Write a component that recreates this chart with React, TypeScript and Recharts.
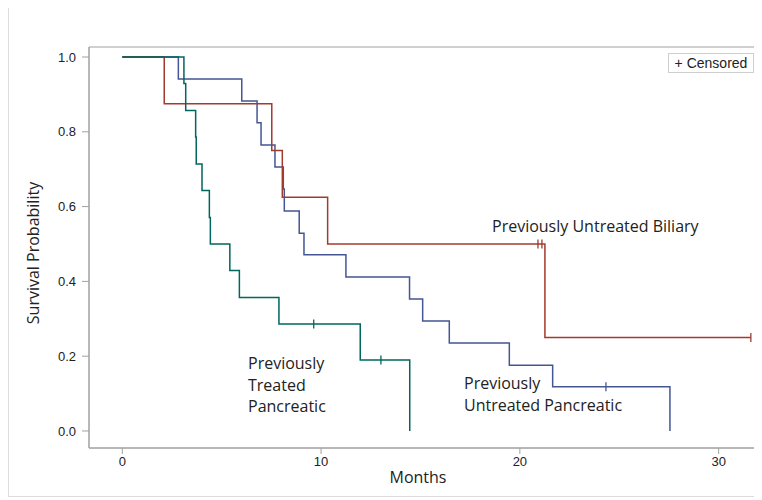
import React from 'react';
import { ComposedChart, Line, Scatter, XAxis, YAxis, ReferenceArea } from 'recharts';

// Previously Treated Pancreatic (n=14)
const treatedPancTimes = [0, 3.1, 3.19, 3.69, 3.72, 4.01, 4.38, 4.43, 5.41, 5.89, 7.88, 11.97, 14.46];
const treatedPancSurv = [1, 0.929, 0.857, 0.786, 0.714, 0.643, 0.571, 0.5, 0.429, 0.357, 0.286, 0.19, 0];
const treatedPancCensorTimes = [9.63, 13.01];
const treatedPancCensorSurv = [0.286, 0.19];

// Previously Untreated Biliary (n=8)
const untreatedBilTimes = [0, 2.11, 7.52, 8.05, 10.33, 21.26, 31.62];
const untreatedBilSurv = [1, 0.875, 0.75, 0.625, 0.5, 0.25, 0.25];
const untreatedBilCensorTimes = [20.91, 21.11, 31.62];
const untreatedBilCensorSurv = [0.5, 0.5, 0.25];

// Previously Untreated Pancreatic (n=17)
const untreatedPancTimes = [0, 2.82, 6.01, 6.78, 6.98, 7.68, 8.1, 8.15, 8.9, 9.14, 11.25, 14.45, 15.11, 16.45, 19.47, 21.65, 27.55];
const untreatedPancSurv = [1, 0.941, 0.882, 0.824, 0.765, 0.706, 0.647, 0.588, 0.529, 0.471, 0.412, 0.353, 0.294, 0.235, 0.176, 0.118, 0];
const untreatedPancCensorTimes = [24.33];
const untreatedPancCensorSurv = [0.118];

const xTicks = [0, 10, 20, 30];
const yTicks = [0, 0.2, 0.4, 0.6, 0.8, 1.0];
const xDomain = [-1.675, 32.03];
const yDomain = [-0.0455, 1.0267];

const BLUE = '#445694';
const RED = '#A23A2E';
const TEAL = '#01665E';

const zip = (xs: number[], ys: number[]) => xs.map((x, i) => ({ x, y: ys[i] }));

const censorShape = (color: string) => (props: any) => {
  const { cx, cy } = props;
  return <line x1={cx} x2={cx} y1={cy - 4.5} y2={cy + 4.5} stroke={color} strokeWidth={1.3} />;
};

const tickStyle = { fill: '#222', fontSize: 13, fontFamily: 'Liberation Sans, Arial, sans-serif' };
const annFont = "'Open Sans', sans-serif";

export default function App() {
  const treated = zip(treatedPancTimes, treatedPancSurv);
  const bil = zip(untreatedBilTimes, untreatedBilSurv);
  const panc = zip(untreatedPancTimes, untreatedPancSurv);
  const treatedC = zip(treatedPancCensorTimes, treatedPancCensorSurv);
  const bilC = zip(untreatedBilCensorTimes, untreatedBilCensorSurv);
  const pancC = zip(untreatedPancCensorTimes, untreatedPancCensorSurv);

  const ann: React.CSSProperties = {
    position: 'absolute', fontFamily: annFont, fontSize: 16, color: '#222', whiteSpace: 'pre', lineHeight: '21.5px',
  };

  return (
    <div style={{ position: 'relative', width: 750, height: 489, border: '1px solid #dcdcdc', marginTop: -2, background: '#fff' }}>
      <ComposedChart width={751} height={490} margin={{ top: 40, right: 1, bottom: 19, left: 20 }}>
        <XAxis
          type="number"
          dataKey="x"
          domain={xDomain}
          ticks={xTicks}
          allowDataOverflow
          height={30}
          tickSize={6}
          tickMargin={3}
          tick={tickStyle}
          stroke="#a0a0a0"
          axisLine={{ stroke: '#a0a0a0' }}
          tickLine={{ stroke: '#a0a0a0' }}
        />
        <YAxis
          type="number"
          dataKey="y"
          domain={yDomain}
          ticks={yTicks}
          allowDataOverflow
          width={60}
          tickSize={7}
          tickMargin={6}
          tick={tickStyle}
          tickFormatter={(v: number) => v.toFixed(1)}
          axisLine={{ stroke: '#a0a0a0' }}
          tickLine={{ stroke: '#a0a0a0' }}
        />
        <ReferenceArea x1={xDomain[0]} x2={xDomain[1]} y1={yDomain[0]} y2={yDomain[1]} fill="none" stroke="#a0a0a0" strokeWidth={1} ifOverflow="visible" />
        <Line data={panc} dataKey="y" type="stepAfter" stroke={BLUE} strokeWidth={1.5} dot={false} isAnimationActive={false} />
        <Line data={bil} dataKey="y" type="stepAfter" stroke={RED} strokeWidth={1.5} dot={false} isAnimationActive={false} />
        <Line data={treated} dataKey="y" type="stepAfter" stroke={TEAL} strokeWidth={1.5} dot={false} isAnimationActive={false} />
        <Scatter data={pancC} dataKey="y" shape={censorShape(BLUE)} isAnimationActive={false} />
        <Scatter data={bilC} dataKey="y" shape={censorShape(RED)} isAnimationActive={false} />
        <Scatter data={treatedC} dataKey="y" shape={censorShape(TEAL)} isAnimationActive={false} />
      </ComposedChart>

      <div style={{ ...ann, left: 492 - 9, top: 216 - 7 }}>Previously Untreated Biliary</div>
      <div style={{ ...ann, left: 248 - 9, top: 353 - 7 }}>{'Previously\nTreated\nPancreatic'}</div>
      <div style={{ ...ann, left: 464 - 9, top: 372 - 7, lineHeight: '22px' }}>{'Previously\nUntreated Pancreatic'}</div>
      <div style={{ ...ann, left: 418 - 9 - 40, width: 80, textAlign: 'center', top: 467 - 7, lineHeight: '20px' }}>Months</div>
      <div
        style={{
          ...ann, left: 33 - 9 - 100, top: 253 - 7 - 10, width: 200, textAlign: 'center', lineHeight: '20px',
          transform: 'rotate(-90deg)',
        }}
      >
        Survival Probability
      </div>
      <div
        style={{
          position: 'absolute', left: 668 - 9, top: 53 - 7, width: 84, height: 18, border: '1px solid #cfcfcf',
          fontFamily: 'Liberation Sans, Arial, sans-serif', fontSize: 14, color: '#222', lineHeight: '18px', textAlign: 'center',
        }}
      >
        + Censored
      </div>
    </div>
  );
}
